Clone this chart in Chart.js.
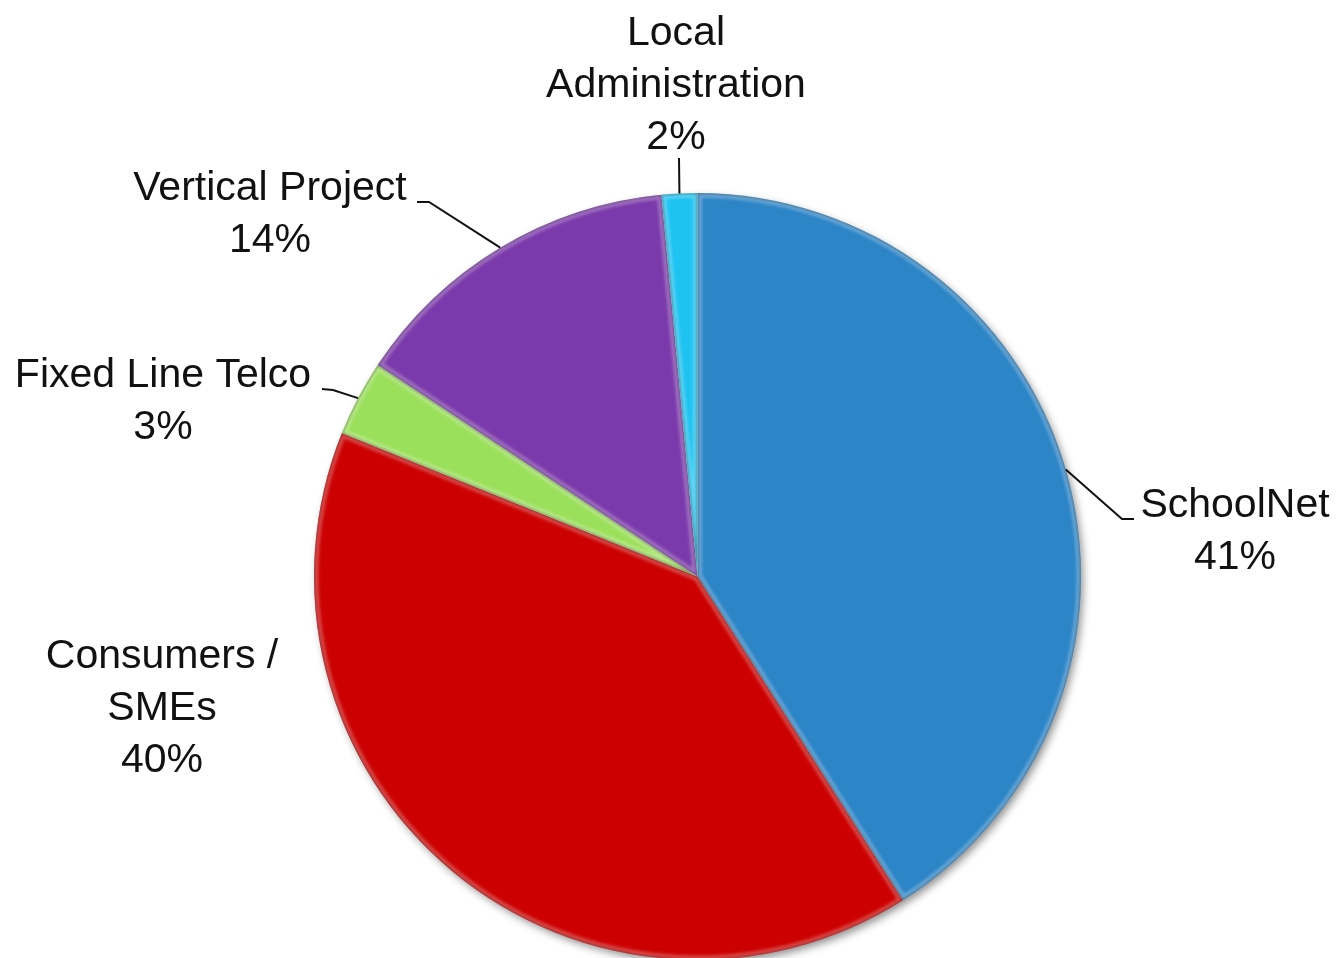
<!DOCTYPE html>
<html>
<head>
<meta charset="utf-8">
<script src="https://cdn.jsdelivr.net/npm/chart.js@4.4.0/dist/chart.umd.min.js"></script>
<style>
    html, body { margin: 0; padding: 0; background: #fff; overflow: hidden; }
</style>
</head>
<body>
<canvas id="myChartPie" width="1336" height="970"></canvas>
<script>
// data
const categories = ['SchoolNet', 'Consumers / SMEs', 'Fixed Line Telco', 'Vertical Project', 'Local Administration'];
const shares = [41.0, 40.1, 3.2, 14.2, 1.5];
const sliceColors = ['#2c85c7', '#cc0000', '#9be05b', '#7b3aab', '#1ec3f1'];

// label layout (text lines, centre x, first baseline, leader points after the slice edge)
const labelLines = [['SchoolNet'], ['Consumers /', 'SMEs'], ['Fixed Line Telco'], ['Vertical Project'], ['Local', 'Administration']];
const labelBoxes = [
    { x: 1235, y: 517, leader: [[1122, 519], [1134, 519]] },
    { x: 162, y: 668, leader: null },
    { x: 163, y: 387, leader: [[333, 390], [322, 389]] },
    { x: 270, y: 200, leader: [[429, 202], [417, 202]] },
    { x: 676, y: 45, leader: [[679, 158]] }
];
const lineGap = 52;

const pieShadow = {
    id: 'pieShadow',
    beforeDatasetsDraw(chart) {
        const arc = chart.getDatasetMeta(0).data[0];
        if (!arc) return;
        const { x, y, outerRadius } = arc.getProps(['x', 'y', 'outerRadius'], true);
        const ctx = chart.ctx;
        ctx.save();
        ctx.shadowColor = 'rgba(0, 0, 0, 0.45)';
        ctx.shadowBlur = 9;
        ctx.shadowOffsetX = 3;
        ctx.shadowOffsetY = 4;
        ctx.fillStyle = '#ffffff';
        ctx.beginPath();
        ctx.arc(x, y, outerRadius - 1, 0, Math.PI * 2);
        ctx.fill();
        ctx.restore();
    }
};

const pieBevel = {
    id: 'pieBevel',
    afterDatasetsDraw(chart) {
        const ctx = chart.ctx;
        chart.getDatasetMeta(0).data.forEach(arc => {
            const { x, y, startAngle, endAngle, outerRadius } =
                arc.getProps(['x', 'y', 'startAngle', 'endAngle', 'outerRadius'], true);
            ctx.save();
            ctx.beginPath();
            ctx.moveTo(x, y);
            ctx.arc(x, y, outerRadius, startAngle, endAngle);
            ctx.closePath();
            ctx.clip();
            ctx.lineJoin = 'round';
            ctx.filter = 'blur(1.5px)';
            ctx.strokeStyle = 'rgba(255, 255, 255, 0.28)';
            ctx.lineWidth = 9;
            ctx.stroke();
            ctx.filter = 'blur(1px)';
            ctx.strokeStyle = 'rgba(0, 0, 0, 0.28)';
            ctx.lineWidth = 2.5;
            ctx.stroke();
            ctx.restore();
        });
    }
};

const pieLabels = {
    id: 'pieLabels',
    afterDraw(chart) {
        const ctx = chart.ctx;
        const arcs = chart.getDatasetMeta(0).data;
        ctx.save();
        ctx.font = '41px "Liberation Sans", Arial, sans-serif';
        ctx.fillStyle = '#111111';
        ctx.textAlign = 'center';
        ctx.textBaseline = 'alphabetic';
        ctx.strokeStyle = '#111111';
        ctx.lineWidth = 2;
        arcs.forEach((arc, i) => {
            const box = labelBoxes[i];
            const lines = labelLines[i].concat([Math.round(shares[i]) + '%']);
            lines.forEach((t, k) => ctx.fillText(t, box.x, box.y + k * lineGap));
            if (box.leader) {
                const { x, y, startAngle, endAngle, outerRadius } =
                    arc.getProps(['x', 'y', 'startAngle', 'endAngle', 'outerRadius'], true);
                const mid = (startAngle + endAngle) / 2;
                ctx.beginPath();
                ctx.moveTo(x + Math.cos(mid) * outerRadius, y + Math.sin(mid) * outerRadius);
                box.leader.forEach(p => ctx.lineTo(p[0], p[1]));
                ctx.stroke();
            }
        });
        ctx.restore();
    }
};

const ctx = document.getElementById('myChartPie').getContext('2d');
const pieChart = new Chart(ctx, {
    type: 'pie',
    data: {
        labels: categories,
        datasets: [{
            data: shares,
            backgroundColor: sliceColors,
            borderWidth: 0,
            radius: 383.5
        }]
    },
    options: {
        responsive: false,
        animation: false,
        layout: {
            padding: { left: 314, right: 255, top: 193, bottom: 10 }
        },
        plugins: {
            legend: { display: false },
            tooltip: { enabled: false }
        }
    },
    plugins: [pieShadow, pieBevel, pieLabels]
});
</script>
</body>
</html>
